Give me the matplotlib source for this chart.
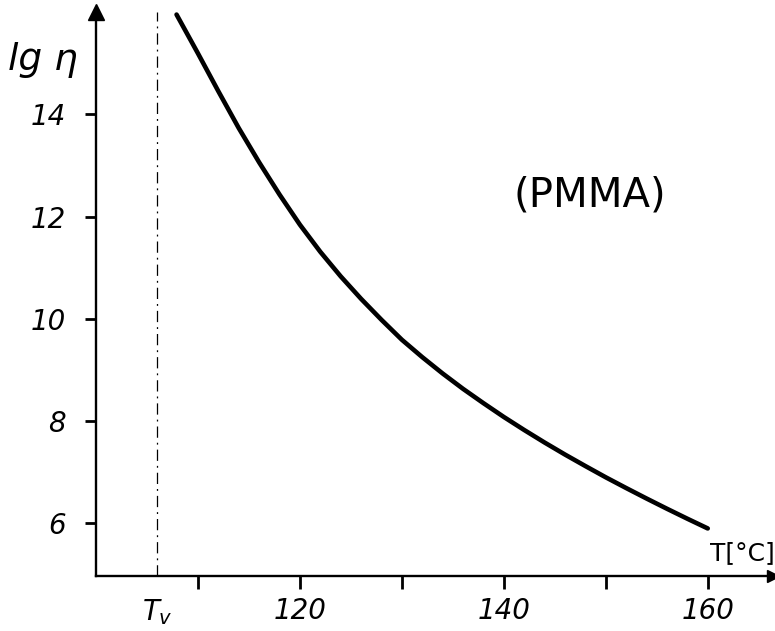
import matplotlib
matplotlib.use("Agg")
import matplotlib.pyplot as plt

# data
temperature = [107.9, 110, 112, 114, 116, 118, 120, 122, 124, 126, 128, 130,
               132, 134, 136, 138, 140, 142, 144, 146, 148, 150, 152, 154,
               156, 158, 160]
lg_eta = [15.95, 15.19, 14.45, 13.73, 13.06, 12.43, 11.84, 11.31, 10.83, 10.39,
          9.98, 9.59, 9.25, 8.93, 8.63, 8.35, 8.08, 7.825, 7.58, 7.345, 7.12,
          6.90, 6.69, 6.485, 6.285, 6.09, 5.90]
t_v = 106.0
y_ticks = [6, 8, 10, 12, 14]
x_ticks = [106, 110, 120, 130, 140, 150, 160]
x_ticklabels = ["$T_v$", "", "120", "", "140", "", "160"]

fig = plt.figure(figsize=(7.75, 6.31), dpi=100)
ax = fig.add_axes([96/775, 55/631, 677/775, 564/631])
ax.set_xlim(100, 166.4)
ax.set_ylim(4.97, 16.0)

for s in ["top", "right"]:
    ax.spines[s].set_visible(False)
for s in ["left", "bottom"]:
    ax.spines[s].set_linewidth(1.7)

ax.plot(temperature, lg_eta, color="black", lw=3.3, solid_capstyle="round",
        solid_joinstyle="round")
ax.axvline(t_v, color="black", lw=0.9, linestyle=(0, (9, 4, 1.5, 4)))

ax.set_yticks(y_ticks)
ax.set_yticklabels([str(v) for v in y_ticks])
ax.set_xticks(x_ticks)
ax.set_xticklabels(x_ticklabels)
ax.tick_params(axis="y", direction="out", length=8, width=2, pad=14, labelsize=20)
ax.tick_params(axis="x", direction="out", length=9, width=2, pad=6, labelsize=20)
for lab in ax.get_xticklabels() + ax.get_yticklabels():
    lab.set_fontstyle("italic")
# hide tick mark at Tv
ax.xaxis.get_major_ticks()[0].tick1line.set_visible(False)

# arrowheads
ax.plot(0, 1, marker="^", color="black", markersize=11, transform=ax.transAxes, clip_on=False)
ax.plot(1, 0, marker=">", color="black", markersize=8, transform=ax.transAxes, clip_on=False)

fig.text(8/775, 1 - 60/631, "lg η", fontsize=27, style="italic", va="center", ha="left")
fig.text(742/775, 1 - 553/631, "T[°C]", fontsize=18, va="center", ha="center")
fig.text(590/775, 1 - 195/631, "(PMMA)", fontsize=29, va="center", ha="center")

fig.savefig("out.png", dpi=100)
